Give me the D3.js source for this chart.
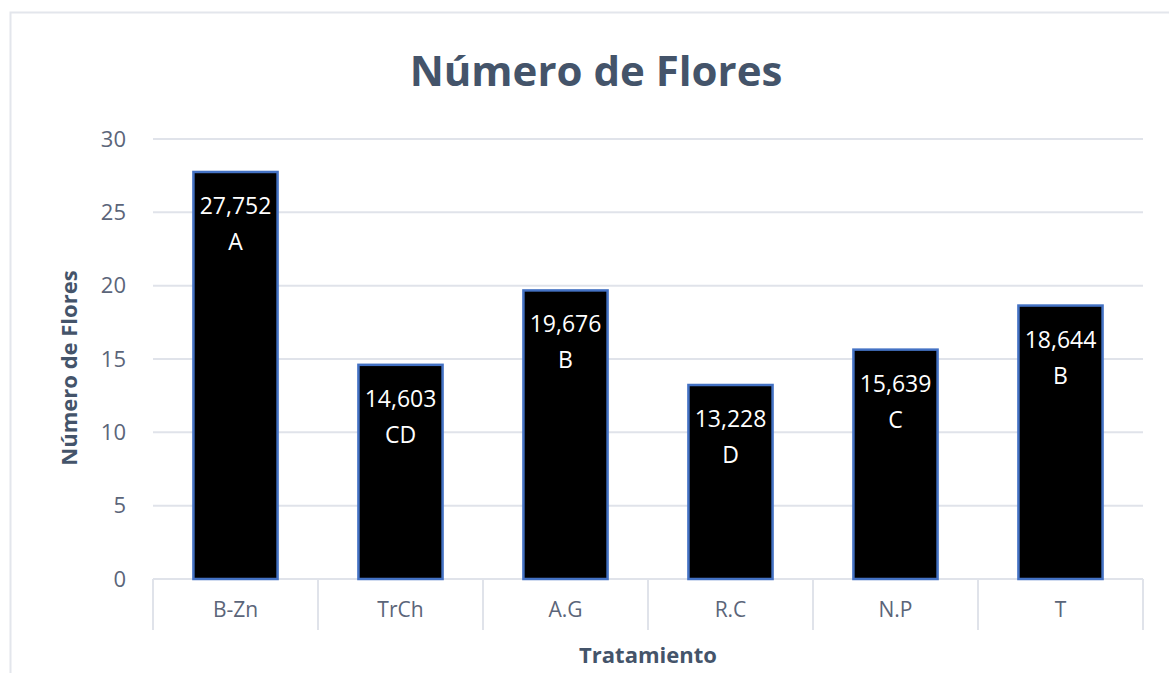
<!DOCTYPE html>
<html>
<head>
<meta charset="utf-8">
<script src="https://cdn.jsdelivr.net/npm/d3@7"></script>
<style>
  body { margin: 0; background: #fff; }
</style>
</head>
<body>
<div id="chart"></div>
<script>
// data
const categories = ['B-Zn', 'TrCh', 'A.G', 'R.C', 'N.P', 'T'];
const values = [27.752, 14.603, 19.676, 13.228, 15.639, 18.644];
const groups = ['A', 'CD', 'B', 'D', 'C', 'B'];
const yTicks = [0, 5, 10, 15, 20, 25, 30];

const width = 1169, height = 673;
const font = '"Open Sans", Lato, sans-serif';
const textCol = '#44546a';

let svg = d3.select('#chart')
    .append('svg')
    .attr('width', width)
    .attr('height', height)
;

// chart frame
svg.append('rect')
    .attr('x', 10.5)
    .attr('y', 12.5)
    .attr('width', 1200)
    .attr('height', 700)
    .style('fill', 'white')
    .style('stroke', '#e3e6ec')
    .style('stroke-width', 2)
;

let plotLeft = 153, plotRight = 1143, plotTop = 139, plotBottom = 579;

let x = d3.scaleBand()
    .domain(categories)
    .range([plotLeft, plotRight])
    .paddingInner(0.49)
    .paddingOuter(0.245)
;
let y = d3.scaleLinear()
    .domain([0, 30])
    .range([plotBottom, plotTop])
;

// gridlines
svg.append('g')
    .selectAll('line')
    .data(yTicks)
    .enter()
    .append('line')
    .attr('x1', plotLeft)
    .attr('x2', plotRight)
    .attr('y1', d => y(d))
    .attr('y2', d => y(d))
    .style('stroke', '#e0e3ea')
    .style('stroke-width', 2)
;

// y tick labels
svg.append('g')
    .selectAll('text')
    .data(yTicks)
    .enter()
    .append('text')
    .attr('x', 126)
    .attr('y', d => y(d))
    .attr('dy', '0.35em')
    .attr('text-anchor', 'end')
    .style('font-family', font)
    .style('font-size', '22px')
    .style('fill', '#5b6579')
    .text(d => d)
;

// category separators
let band = x.step();
let seps = d3.range(categories.length + 1).map(i => plotLeft + i * band);
svg.append('g')
    .selectAll('line')
    .data(seps)
    .enter()
    .append('line')
    .attr('x1', d => d)
    .attr('x2', d => d)
    .attr('y1', plotBottom)
    .attr('y2', plotBottom + 51)
    .style('stroke', '#e0e3ea')
    .style('stroke-width', 2)
;

// category labels
svg.append('g')
    .selectAll('text')
    .data(categories)
    .enter()
    .append('text')
    .attr('x', d => x(d) + x.bandwidth() / 2)
    .attr('y', plotBottom + 31)
    .attr('dy', '0.35em')
    .attr('text-anchor', 'middle')
    .style('font-family', font)
    .style('font-size', '21px')
    .style('fill', '#5b6579')
    .text(d => d)
;

// bars
svg.append('g')
    .selectAll('rect')
    .data(values)
    .enter()
    .append('rect')
    .attr('x', (d, i) => x(categories[i]))
    .attr('y', d => y(d))
    .attr('width', x.bandwidth())
    .attr('height', d => y(0) - y(d))
    .style('fill', 'black')
    .style('stroke', '#4472c4')
    .style('stroke-width', 2.5)
;

// bar labels: value + group letter
let fmt = v => v.toFixed(3).replace('.', ',');
let labels = svg.append('g')
    .selectAll('text')
    .data(values)
    .enter()
    .append('text')
    .attr('text-anchor', 'middle')
    .style('font-family', font)
    .style('font-size', '23px')
    .style('fill', 'white')
;
labels.append('tspan')
    .attr('x', (d, i) => x(categories[i]) + x.bandwidth() / 2)
    .attr('y', d => y(d) + 42)
    .text(d => fmt(d))
;
labels.append('tspan')
    .attr('x', (d, i) => x(categories[i]) + x.bandwidth() / 2)
    .attr('y', d => y(d) + 78)
    .text((d, i) => groups[i])
;

// title
svg.append('text')
    .attr('x', 596)
    .attr('y', 86)
    .attr('text-anchor', 'middle')
    .style('font-family', font)
    .style('font-weight', 'bold')
    .style('font-size', '42px')
    .style('fill', textCol)
    .text('Número de Flores')
;

// axis titles
svg.append('text')
    .attr('text-anchor', 'middle')
    .attr('transform', `translate(77, ${(plotTop + plotBottom) / 2 + 9}) rotate(-90)`)
    .style('font-family', font)
    .style('font-weight', 'bold')
    .style('font-size', '22px')
    .style('fill', textCol)
    .text('Número de Flores')
;
svg.append('text')
    .attr('x', 648)
    .attr('y', 663)
    .attr('text-anchor', 'middle')
    .style('font-family', font)
    .style('font-weight', 'bold')
    .style('font-size', '22px')
    .style('fill', textCol)
    .text('Tratamiento')
;
</script>
</body>
</html>
